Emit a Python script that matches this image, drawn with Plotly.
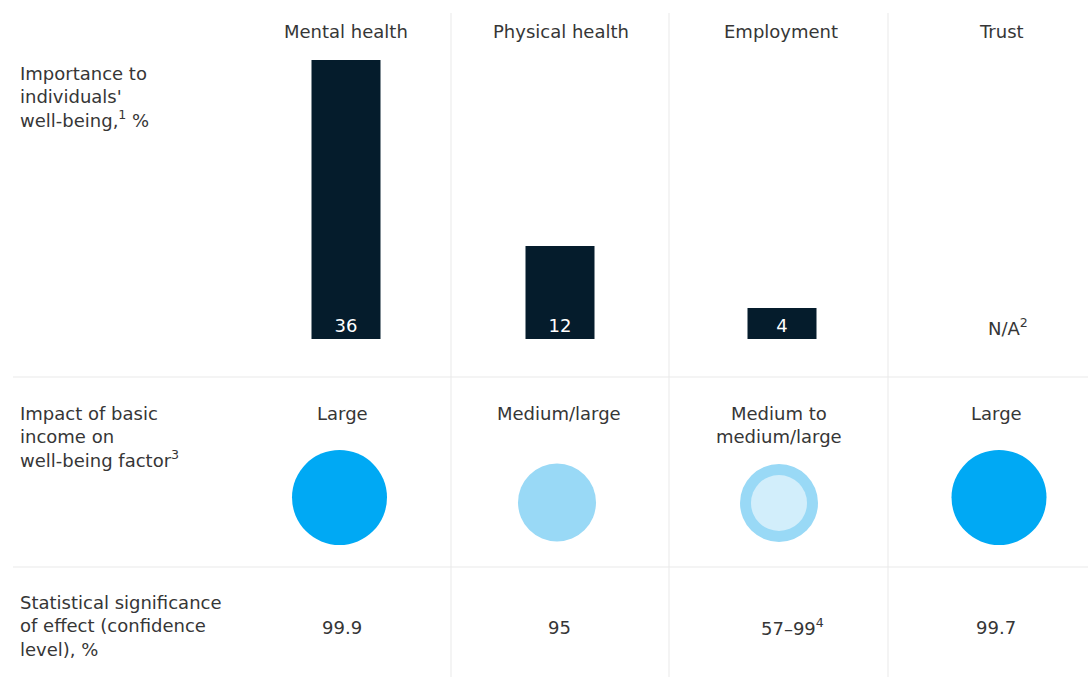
import plotly.graph_objects as go

# ---- data -------------------------------------------------------------
factors = ["Mental health", "Physical health", "Employment", "Trust"]
importance_pct = [36, 12, 4, None]          # importance to individuals' well-being, %
impact_labels = ["Large", "Medium/large", "Medium to<br>medium/large", "Large"]
impact_levels = ["large", "medium_large", "medium_to_medium_large", "large"]
significance_labels = ["99.9", "95", "57–99<sup>4</sup>", "99.7"]
missing_label = "N/A<sup>2</sup>"

row_titles = [
    "Importance to<br>individuals'<br>well-being,<sup>1</sup> %",
    "Impact of basic<br>income on<br>well-being factor<sup>3</sup>",
    "Statistical significance<br>of effect (confidence<br>level), %",
]

# ---- layout constants (pixels) ---------------------------------------
W, H = 1088, 677
FONT = "DejaVu Sans"
TEXT = "#363636"
GRID = "#E9E9E9"
NAVY = "#051C2C"

header_x = [346, 561, 781, 1001]
bar_x = [346, 560, 782]
impact_text_x = [342, 559, 779, 996]
circle_x = [339.5, 557, 779, 999]
circle_y = [497.5, 502.5, 503, 497.5]
sig_x = [342, 559, 792, 996]
divider_x = [451, 669, 888]
divider_y = [377, 567]

BAR_BASE_PX = 339
PX_PER_POINT = 7.75
BAR_WIDTH = 69

circle_style = {
    "large": [(95, "#00A9F4")],
    "medium_large": [(78, "#99D9F6")],
    "medium_to_medium_large": [(78, "#99D9F6"), (56, "#D2EEFB")],
}

fig = go.Figure()

# bars for importance
bar_vals = [v for v in importance_pct if v is not None]
fig.add_trace(go.Bar(
    x=bar_x[:len(bar_vals)], y=bar_vals, width=BAR_WIDTH,
    xaxis="x", yaxis="y2",
    marker=dict(color=NAVY, line=dict(width=0)),
    text=[str(v) for v in bar_vals], textposition="inside",
    insidetextanchor="start", constraintext="none",
    textfont=dict(family=FONT, size=18, color="white"),
    hoverinfo="skip", showlegend=False,
))

# impact circles
for cx, cy, lvl in zip(circle_x, circle_y, impact_levels):
    for size, color in circle_style[lvl]:
        fig.add_trace(go.Scatter(
            x=[cx], y=[cy], mode="markers",
            marker=dict(size=size, color=color, line=dict(width=0)),
            hoverinfo="skip", showlegend=False,
        ))

# grid lines
for x in divider_x:
    fig.add_shape(type="line", x0=x, x1=x, y0=13, y1=H, xref="x", yref="y",
                  line=dict(color=GRID, width=1), layer="below")
for y in divider_y:
    fig.add_shape(type="line", x0=13, x1=W, y0=y, y1=y, xref="x", yref="y",
                  line=dict(color=GRID, width=1), layer="below")

def note(x, y, text, xanchor="center", color=TEXT, size=18):
    fig.add_annotation(x=x, y=y, xref="x", yref="y", text=text, showarrow=False,
                       xanchor=xanchor, yanchor="middle",
                       align=xanchor if xanchor != "center" else "center",
                       font=dict(family=FONT, size=size, color=color))

# column headers
for x, name in zip(header_x, factors):
    note(x, 31, name)

# row titles
for y, t in zip([97, 437, 626], row_titles):
    note(18, y, t, xanchor="left")

# missing importance value
for x, v in zip(header_x, importance_pct):
    if v is None:
        note(x + 7, 327, missing_label)

# impact labels
for x, t in zip(impact_text_x, impact_labels):
    note(x, 425 if "<br>" in t else 413, t)

# significance values
for x, t in zip(sig_x, significance_labels):
    note(x, 627, t)

fig.update_layout(
    width=W, height=H, autosize=False,
    margin=dict(l=0, r=0, t=0, b=0),
    paper_bgcolor="white", plot_bgcolor="rgba(0,0,0,0)",
    xaxis=dict(range=[0, W], visible=False, fixedrange=True, domain=[0, 1]),
    yaxis=dict(range=[H, 0], visible=False, fixedrange=True, domain=[0, 1]),
    yaxis2=dict(domain=[1 - BAR_BASE_PX / H, 1], range=[0, BAR_BASE_PX / PX_PER_POINT],
                visible=False, fixedrange=True, anchor="x"),
    hovermode=False,
)

fig.write_html("out.html", config={"displayModeBar": False, "staticPlot": True})
